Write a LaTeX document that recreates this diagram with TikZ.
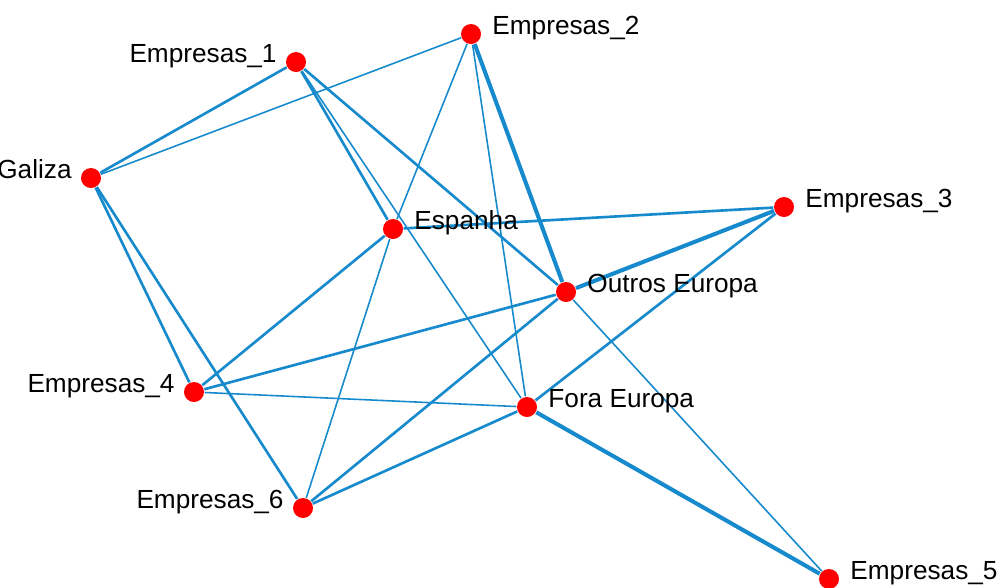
\documentclass[tikz,border=0pt]{standalone}
\usepackage{fontspec}
\setmainfont{Liberation Sans}
\usepackage{tikz}
\definecolor{tieblue}{RGB}{22,138,204}
\tikzstyle{actor}=[circle,fill=red,draw=none,minimum size=0.2cm,inner sep=0pt]
\tikzstyle{rname}=[font=\fontsize{7.45}{9}\selectfont,inner sep=0pt,anchor=base west,xshift=0.1cm]
\tikzstyle{lname}=[font=\fontsize{7.45}{9}\selectfont,inner sep=0pt,anchor=base east,xshift=-0.08cm]
\tikzstyle{weak}=[-,draw=tieblue,line width=0.45]
\tikzstyle{tie}=[-,draw=tieblue,line width=0.75]
\tikzstyle{strong}=[-,draw=tieblue,line width=1.15]
\pgfdeclarelayer{edgelayer}
\pgfdeclarelayer{nodelayer}
\pgfsetlayers{edgelayer,nodelayer,main}
\begin{document}
\begin{tikzpicture}[x=0.01cm,y=-0.01cm]
	\useasboundingbox (0,0) rectangle (1000,587);
	\begin{pgfonlayer}{nodelayer}
		\node [style=actor, label={[style=lname]180:Galiza}] (Gal) at (91, 178) {};
		\node [style=actor, label={[style=lname]180:Empresas\_1}] (E1) at (296, 62) {};
		\node [style=actor, label={[style=rname]0:Empresas\_2}] (E2) at (471, 34) {};
		\node [style=actor, label={[style=rname]0:Espanha}] (Esp) at (393, 229) {};
		\node [style=actor, label={[style=rname]0:Empresas\_3}] (E3) at (784, 207) {};
		\node [style=actor, label={[style=rname]0:Outros Europa}] (OEu) at (566, 292) {};
		\node [style=actor, label={[style=lname]180:Empresas\_4}] (E4) at (194, 392) {};
		\node [style=actor, label={[style=rname]0:Fora Europa}] (FEu) at (527, 407) {};
		\node [style=actor, label={[style=lname]180:Empresas\_6}] (E6) at (303, 508) {};
		\node [style=actor, label={[style=rname]0:Empresas\_5}] (E5) at (829, 579) {};
	\end{pgfonlayer}
	\begin{pgfonlayer}{edgelayer}
		\draw [style=strong] (E2) to (OEu);
		\draw [style=strong] (E3) to (OEu);
		\draw [style=strong] (FEu) to (E5);
		\draw [style=tie] (Gal) to (E1);
		\draw [style=tie] (Gal) to (E4);
		\draw [style=tie] (Gal) to (E6);
		\draw [style=tie] (E1) to (Esp);
		\draw [style=tie] (E1) to (OEu);
		\draw [style=tie] (Esp) to (E4);
		\draw [style=tie] (Esp) to (E3);
		\draw [style=tie] (OEu) to (E4);
		\draw [style=tie] (OEu) to (E6);
		\draw [style=tie] (E6) to (FEu);
		\draw [style=tie] (E3) to (FEu);
		\draw [style=weak] (Gal) to (E2);
		\draw [style=weak] (E1) to (FEu);
		\draw [style=weak] (E2) to (FEu);
		\draw [style=weak] (E2) to (Esp);
		\draw [style=weak] (Esp) to (E6);
		\draw [style=weak] (E4) to (FEu);
		\draw [style=weak] (OEu) to (E5);
	\end{pgfonlayer}
\end{tikzpicture}
\end{document}
